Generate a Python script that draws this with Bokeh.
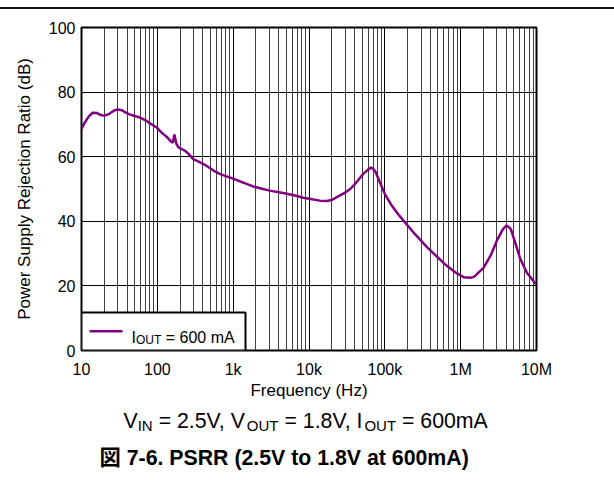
import math
from bokeh.plotting import figure
from bokeh.layouts import column
from bokeh.models import FixedTicker, BoxAnnotation, Range1d
from bokeh.core.properties import value
from bokeh.embed import file_html
from bokeh.resources import INLINE

# ---------------- data ----------------
freq_hz = [10, 11, 12.5, 14, 16, 18, 20, 23, 27, 30, 34, 38, 43, 50, 56, 63, 72, 80, 90,
           100, 110, 120, 135, 150, 160, 168, 178, 192, 230, 260, 300, 340, 400, 470, 550,
           665, 800, 1000, 1220, 1500, 1830, 2400, 3040, 4000, 5100, 6500, 8400, 11000,
           13900, 17000, 20000, 25600, 30000, 35000, 42000, 52000, 60000, 66000, 70000,
           76000, 85000, 100000, 120000, 150000, 176000, 250000, 360000, 500000, 650000,
           850000, 1090000, 1350000, 1500000, 1650000, 2000000, 2500000, 3000000, 3600000,
           4000000, 4300000, 4600000, 5300000, 6100000, 7500000, 9400000, 10000000]
psrr_db = [68.6, 70.5, 72.5, 73.6, 73.5, 72.9, 72.7, 73.2, 74.3, 74.6, 74.4, 73.7, 73.1, 72.6,
           72.3, 71.8, 71.1, 70.3, 69.6, 68.9, 67.8, 67.0, 66.0, 64.8, 64.3, 66.9, 64.0, 62.8,
           61.9, 60.8, 59.2, 58.6, 57.8, 56.8, 55.7, 54.7, 54.0, 53.2, 52.4, 51.6, 50.8, 50.1,
           49.5, 49.0, 48.5, 48.0, 47.3, 46.8, 46.4, 46.3, 46.6, 48.0, 48.9, 50.0, 52.0, 54.7,
           56.0, 56.6, 56.3, 55.2, 52.3, 48.5, 45.3, 42.2, 40.2, 36.0, 32.0, 28.8, 26.3, 24.2,
           22.7, 22.5, 22.8, 23.7, 25.6, 29.5, 34.0, 37.5, 38.7, 38.3, 37.5, 33.0, 28.4, 24.0,
           21.1, 20.5]

x_ticks = [10, 100, 1000, 10000, 100000, 1000000, 10000000]
x_tick_labels = ["10", "100", "1k", "10k", "100k", "1M", "10M"]
y_ticks = [0, 20, 40, 60, 80, 100]

x_title = "Frequency (Hz)"
y_title = "Power Supply Rejection Ratio (dB)"
legend_parts = [("I", False), ("OUT", True), (" = 600 mA", False)]
subtitle_parts = [("V", False), ("IN", True), (" = 2.5V, V", False), ("OUT", True),
                  (" = 1.8V, I", False), ("OUT", True), (" = 600mA", False)]
caption = "図 7-6. PSRR (2.5V to 1.8V at 600mA)"

# ---------------- layout / style ----------------
FONT = "Liberation Sans"
CJK_FONT = "Liberation Sans, Noto Sans CJK JP"
PURPLE = "#800080"
TOP = 9                      # canvas starts below the 2px rule
W = 614
FRAME_L, FRAME_R, FRAME_T, FRAME_B = 81, 536, 27, 350
PLOT_BOTTOM = 404            # page y where the chart canvas ends
Q_TOP = PLOT_BOTTOM + 8      # observed page y where the caption panel starts
PAGE_BOTTOM = 478
H = PLOT_BOTTOM - TOP
X0, X1 = 10, 1e7
Y0, Y1 = 0, 100

# Arial / Liberation Sans advance widths (em) for text layout
ADV = {' ': .278, '=': .584, '.': .278, ',': .278, 'V': .667, 'I': .278, 'N': .722,
       'O': .778, 'U': .722, 'T': .611, 'm': .833, 'A': .667, '0': .556, '1': .556,
       '2': .556, '5': .556, '6': .556, '8': .556}


def text_w(s, size):
    return sum(ADV.get(c, .556) for c in s) * size


def px_x(px):
    frac = (px - FRAME_L) / (FRAME_R - FRAME_L)
    return 10 ** (math.log10(X0) + frac * (math.log10(X1) - math.log10(X0)))


def px_y(py):
    return Y0 + (FRAME_B - py) / (FRAME_B - FRAME_T) * (Y1 - Y0)


def split_lead(txt):
    """SVG drops leading blanks: return visible text and its left shift."""
    body = txt.lstrip(" ")
    return body, txt[:len(txt) - len(body)]


p = figure(width=W, height=H, x_axis_type="log", title=None,
           x_range=Range1d(X0, X1), y_range=Range1d(Y0, Y1),
           output_backend="svg", toolbar_location=None,
           min_border_left=FRAME_L, min_border_right=W - FRAME_R,
           min_border_top=FRAME_T - TOP, min_border_bottom=PLOT_BOTTOM - FRAME_B)
p.background_fill_color = "white"
p.border_fill_color = "white"
p.outline_line_color = "black"
p.outline_line_width = 2
p.outline_line_alpha = 1

minor = [m * 10 ** d for d in range(1, 7) for m in range(2, 10)]
p.xaxis.ticker = FixedTicker(ticks=x_ticks, minor_ticks=minor)
p.xaxis.major_label_overrides = {t: l for t, l in zip(x_ticks, x_tick_labels)}
p.yaxis.ticker = FixedTicker(ticks=y_ticks)

for ax in (p.xaxis[0], p.yaxis[0]):
    ax.axis_line_color = None
    ax.major_tick_line_color = None
    ax.minor_tick_line_color = None
    ax.major_tick_out = 0
    ax.major_tick_in = 0
    ax.major_label_text_font = FONT
    ax.major_label_text_font_size = "16px"
    ax.major_label_text_color = "black"
    ax.axis_label_text_font = FONT
    ax.axis_label_text_font_size = "17px"
    ax.axis_label_text_font_style = "normal"
    ax.axis_label_text_color = "black"

p.xaxis.axis_label = x_title
p.yaxis.axis_label = y_title
p.xaxis.major_label_standoff = 6
p.xaxis.axis_label_standoff = 0
p.yaxis.major_label_standoff = 6
p.yaxis.axis_label_standoff = 12

p.xgrid.grid_line_color = "black"
p.xgrid.grid_line_alpha = 1
p.xgrid.minor_grid_line_color = "black"
p.xgrid.minor_grid_line_alpha = 0.75
p.ygrid.grid_line_color = "black"
p.ygrid.grid_line_alpha = 1
p.ygrid.minor_grid_line_color = None

r = p.line(freq_hz, psrr_db, line_color=PURPLE, line_width=2.5)

# ---------------- legend (box, swatch and subscripted label) ----------------
LEG_L, LEG_R, LEG_T = FRAME_L, 245, 312
LEG_LINE_X0, LEG_LINE_X1, LEG_LINE_Y = 89, 122, 330.7
LEG_TEXT_X, LEG_BASE = 131, 337.3
LEG_FS, LEG_SUB = 16, 12
p.add_layout(BoxAnnotation(left=px_x(LEG_L), right=px_x(LEG_R), bottom=Y0, top=px_y(LEG_T),
                           fill_color="white", fill_alpha=1, line_color="black",
                           line_width=2, line_alpha=1, level="underlay"))
p.segment(x0=[px_x(LEG_LINE_X0)], y0=[px_y(LEG_LINE_Y)], x1=[px_x(LEG_LINE_X1)],
          y1=[px_y(LEG_LINE_Y)], line_color=PURPLE, line_width=2.5)
x = LEG_TEXT_X
for txt, sub in legend_parts:
    fs = LEG_SUB if sub else LEG_FS
    body, lead = split_lead(txt)
    p.text(x=[px_x(x + text_w(lead, fs))], y=[px_y(LEG_BASE + (2.2 if sub else 0))],
           text=[body], text_font=value(FONT), text_font_size=value(f"{fs}px"),
           text_color="black", text_align="left", text_baseline="alphabetic")
    x += text_w(txt, fs)

# ---------------- caption panel below the chart ----------------
q = figure(width=W, height=PAGE_BOTTOM - Q_TOP, title=None,
           x_range=Range1d(FRAME_L, FRAME_R), y_range=Range1d(PAGE_BOTTOM, Q_TOP),
           output_backend="svg", toolbar_location=None,
           min_border_left=FRAME_L, min_border_right=W - FRAME_R,
           min_border_top=0, min_border_bottom=0,
           x_axis_location=None, y_axis_location=None)
q.outline_line_color = None
q.grid.visible = False
q.background_fill_color = "white"
q.border_fill_color = "white"

SUB_FS, SUB_SFS = 21.3, 15
SUB_BASE = 428
x = 123
for txt, sub in subtitle_parts:
    fs = SUB_SFS if sub else SUB_FS
    body, lead = split_lead(txt)
    q.text(x=[x + text_w(lead, fs)], y=[SUB_BASE + (4.5 if sub else 0)], text=[body],
           text_font=value(FONT), text_font_size=value(f"{fs}px"), text_color="black",
           text_align="left", text_baseline="alphabetic")
    x += text_w(txt, fs)

q.text(x=[99], y=[465], text=[caption], text_font=value(CJK_FONT),
       text_font_size=value("21.3px"), text_font_style="bold", text_color="black",
       text_align="left", text_baseline="alphabetic")

page = column(p, q, spacing=0,
              styles={"margin-top": "7px", "border-top": "2px solid #111111"})
open("out.html", "w").write(file_html(page, INLINE))
